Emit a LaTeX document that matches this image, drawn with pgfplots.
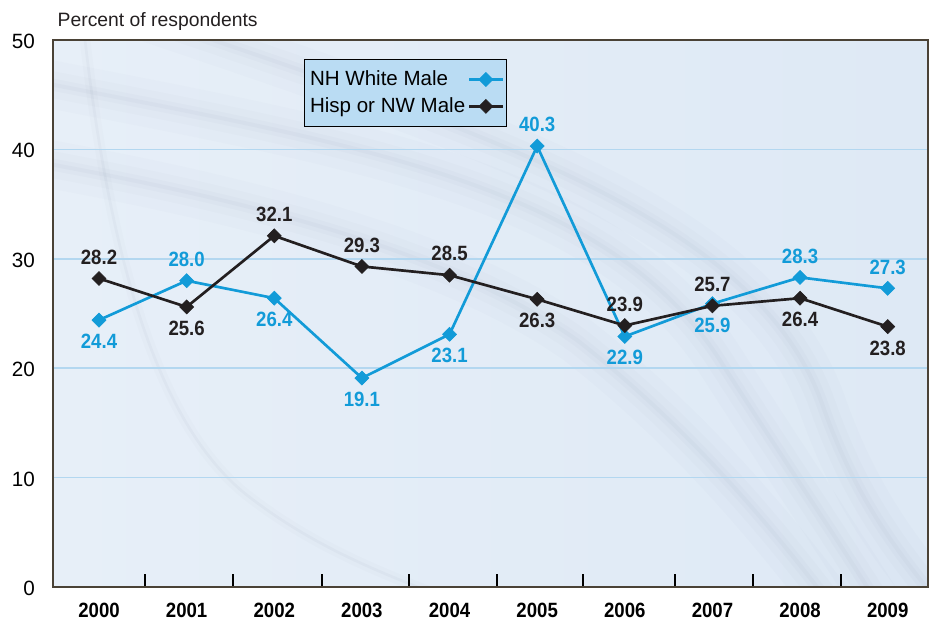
\documentclass[border=0pt]{standalone}
\usepackage{fontspec}
\setmainfont{Liberation Sans}
\newfontfamily\cond[FakeStretch=0.9]{Liberation Sans}
\usepackage{pgfplots}
\pgfplotsset{compat=1.18}
\usepackage{pgfplotstable}
\definecolor{cblue}{HTML}{129BD8}
\definecolor{cdark}{HTML}{231F20}
\definecolor{bgA}{HTML}{E7EFF8}
\definecolor{bgB}{HTML}{DEE9F5}
\definecolor{gridc}{HTML}{B3D7F0}
\definecolor{legc}{HTML}{BADCF3}
\definecolor{framec}{HTML}{4A4236}
\definecolor{swirl}{HTML}{6F7C96}
\pgfplotstableread{
x y d
0 24.4 -1
1 28.0 1
2 26.4 -1
3 19.1 -1
4 23.1 -1
5 40.3 1
6 22.9 -1
7 25.9 -1
8 28.3 1
9 27.3 1
}\whitedata
\pgfplotstableread{
x y d
0 28.2 1
1 25.6 -1
2 32.1 1
3 29.3 1
4 28.5 1
5 26.3 -1
6 23.9 1
7 25.7 1
8 26.4 -1
9 23.8 -1
}\hispdata
\tikzset{
  softband/.style={draw=swirl, line cap=round, line width=3pt, draw opacity=0.04,
    preaction={draw=swirl, line cap=round, line width=36pt, draw opacity=0.018},
    preaction={draw=swirl, line cap=round, line width=20pt, draw opacity=0.025},
    preaction={draw=swirl, line cap=round, line width=9pt, draw opacity=0.03}},
  softthin/.style={draw=swirl, line cap=round, line width=2pt, draw opacity=0.05,
    preaction={draw=swirl, line cap=round, line width=8pt, draw opacity=0.025}},
}
\begin{document}
\begin{tikzpicture}
\begin{axis}[
  set layers,
  at={(39.75pt,26.25pt)}, anchor=south west,
  scale only axis, width=656.25pt, height=410.25pt,
  xmin=-0.525, xmax=9.46, ymin=0, ymax=50,
  axis line style={framec, line width=1.4pt},
  axis background/.style={left color=bgA, right color=bgB},
  xtick={0,...,9},
  xticklabels={2000,2001,2002,2003,2004,2005,2006,2007,2008,2009},
  major x tick style={draw=none},
  minor xtick={0.525,1.53,2.546,3.539,4.543,5.525,6.575,7.466,8.47},
  minor x tick style={black, line width=1.5pt},
  minor tick length=9.5pt,
  tick align=inside,
  xtick pos=bottom,
  xticklabel style={font=\fontsize{15.5}{17}\cond\bfseries, yshift=-8.5pt},
  ytick={0,10,...,50},
  ytick style={draw=none},
  yticklabel style={font=\fontsize{15.5}{17}\selectfont, anchor=east, xshift=-10pt, yshift=-1pt},
  /pgf/number format/assume math mode=true,
  ymajorgrids,
  grid style={gridc, line width=1.1pt},
  legend style={at={(0.287,0.965)}, anchor=north west, fill=legc, draw=black, line width=0.9pt,
    font=\fontsize{15.4}{18}\selectfont, row sep=3.5pt, inner xsep=2pt, inner ysep=6.5pt},
  legend cell align=left,
  legend plot pos=right,
  legend image code/.code={\draw[mark repeat=2, mark phase=2] plot coordinates {(0pt,0pt) (12.5pt,0pt) (25pt,0pt)};},
  clip=false,
  nodes near coords,
  point meta=explicit symbolic,
  visualization depends on={\thisrow{d} \as \dd},
  nodes near coords style={anchor=center, yshift=\dd*16pt, font=\fontsize{15.5}{17}\cond\bfseries},
]
\begin{pgfonlayer}{axis background}
\begin{scope}
\clip (rel axis cs:0,0) rectangle (rel axis cs:1,1);
\path[softband] (rel axis cs:-0.1,0.80) .. controls (rel axis cs:0.2,0.72) and (rel axis cs:0.45,0.62) .. (rel axis cs:0.6,0.45) .. controls (rel axis cs:0.72,0.3) and (rel axis cs:0.82,0.12) .. (rel axis cs:0.92,-0.1);
\path[softband] (rel axis cs:-0.1,0.95) .. controls (rel axis cs:0.3,0.82) and (rel axis cs:0.62,0.76) .. (rel axis cs:0.76,0.42) .. controls (rel axis cs:0.84,0.22) and (rel axis cs:0.9,0.08) .. (rel axis cs:0.97,-0.1);
\path[softband] (rel axis cs:0.0,1.1) .. controls (rel axis cs:0.45,0.85) and (rel axis cs:0.8,0.7) .. (rel axis cs:0.88,0.33) .. controls (rel axis cs:0.92,0.15) and (rel axis cs:0.97,0.05) .. (rel axis cs:1.05,-0.1);
\path[softthin] (rel axis cs:0.03,1.1) .. controls (rel axis cs:0.06,0.6) and (rel axis cs:0.12,0.3) .. (rel axis cs:0.22,0.17) .. controls (rel axis cs:0.3,0.07) and (rel axis cs:0.38,0.02) .. (rel axis cs:0.5,-0.05);
\end{scope}
\end{pgfonlayer}
\addplot[cblue, line width=2pt, mark=square*, mark size=3.7pt, mark options={fill=cblue, draw=cblue, rotate=45, line width=0.5pt},
  nodes near coords style={text=cblue}]
  table[x=x, y=y, meta=y] {\whitedata};
\addlegendentry{NH White Male}
\addplot[cdark, line width=2pt, mark=square*, mark size=3.7pt, mark options={fill=cdark, draw=cdark, rotate=45, line width=0.5pt},
  nodes near coords style={text=cdark}]
  table[x=x, y=y, meta=y] {\hispdata};
\addlegendentry{Hisp or NW Male}
\node[anchor=base west, font=\fontsize{14.5}{16}\selectfont, text=cdark] at ([xshift=0pt, yshift=10pt]rel axis cs:0,1) {Percent of respondents};
\end{axis}
\path (0,0) rectangle (700.5pt,466.5pt);
\end{tikzpicture}
\end{document}
